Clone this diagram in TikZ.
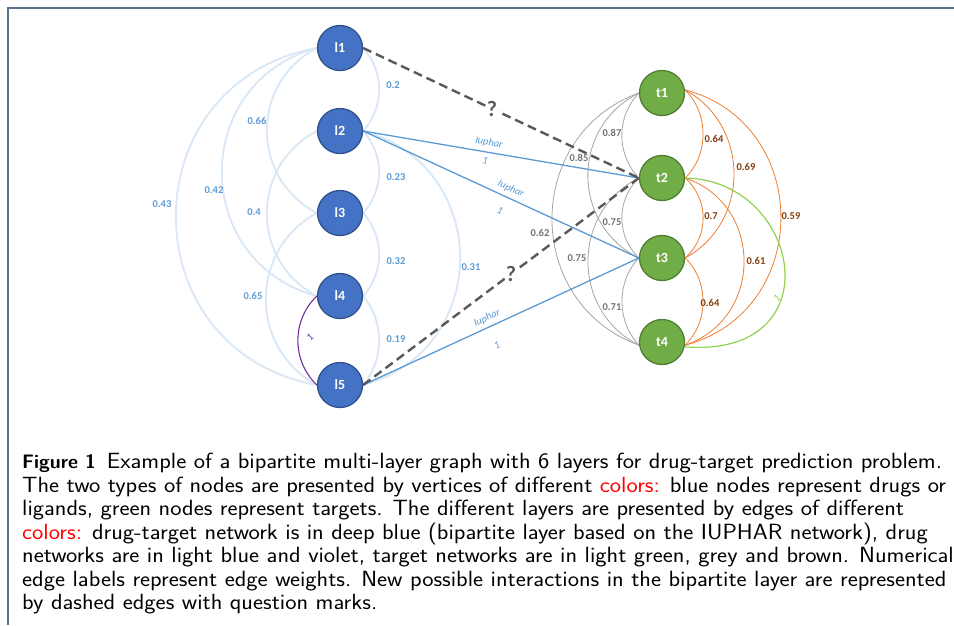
\documentclass[tikz,border=0pt]{standalone}
\usepackage{fontspec}
\newfontfamily\calib{Carlito}
\newfontfamily\capfont{lmsans17-regular.otf}[FakeStretch=1.09]
\usetikzlibrary{backgrounds}

\definecolor{drugfill}{HTML}{4472C4}
\definecolor{drugline}{HTML}{2F528F}
\definecolor{targfill}{HTML}{70AD47}
\definecolor{targline}{HTML}{507E32}
\definecolor{lightarc}{HTML}{DAE7F5}
\definecolor{lightlab}{HTML}{5B9BD5}
\definecolor{bipcol}{HTML}{5B9BD5}
\definecolor{violetcol}{HTML}{7030A0}
\definecolor{greycol}{HTML}{A5A5A5}
\definecolor{greylab}{HTML}{767171}
\definecolor{browncol}{HTML}{ED7D31}
\definecolor{brownlab}{HTML}{843C0C}
\definecolor{greencol}{HTML}{92D050}
\definecolor{guesscol}{HTML}{595959}
\definecolor{framecol}{HTML}{5B7391}

\begin{document}
\begin{tikzpicture}[x=1pt,y=-1pt,
  drug/.style={circle, minimum size=45pt, inner sep=0pt, fill=drugfill, draw=drugline,
    line width=1.3pt, text=white, font=\calib\bfseries\fontsize{14}{16}\selectfont},
  targ/.style={drug, fill=targfill, draw=targline},
  drugarc/.style={draw=lightarc, line width=1.9pt},
  violetarc/.style={draw=violetcol, line width=1.1pt},
  greyarc/.style={draw=greycol, line width=0.8pt},
  brownarc/.style={draw=browncol, line width=0.8pt},
  greenarc/.style={draw=greencol, line width=1.2pt},
  bip/.style={draw=bipcol, line width=1.3pt},
  guess/.style={draw=guesscol, line width=2.4pt, dash pattern=on 9pt off 5pt},
  wlab/.style={font=\calib\bfseries\fontsize{10.5}{12}\selectfont, inner sep=1pt},
  lbl/.style={wlab, text=lightlab},
  glbl/.style={wlab, text=greylab},
  blbl/.style={wlab, text=brownlab},
  iup/.style={font=\calib\itshape\fontsize{10.5}{12}\selectfont, text=bipcol, inner sep=0.5pt},
  qmark/.style={font=\calib\bfseries\fontsize{22}{24}\selectfont, text=guesscol,
    fill=white, inner sep=1pt}
]
\useasboundingbox (0,0) rectangle (954,625);

% frame lines
\draw[framecol, line width=2pt] (8,625) -- (8,8) -- (954,8);

% drug (ligand) vertices
\node[drug] (l1) at (340,48)  {l1};
\node[drug] (l2) at (340,131) {l2};
\node[drug] (l3) at (340,213) {l3};
\node[drug] (l4) at (340,296) {l4};
\node[drug] (l5) at (340,385) {l5};

% target vertices
\node[targ] (t1) at (662,93)  {t1};
\node[targ] (t2) at (662,178) {t2};
\node[targ] (t3) at (662,258) {t3};
\node[targ] (t4) at (662,342) {t4};

\begin{scope}[on background layer]
  % drug network (light blue), west side
  \draw[drugarc] (l1.west) .. controls +(-66.7,34.9) and +(-66.7,-34.9) .. (l3.west);
  \draw[drugarc] (l1.west) .. controls +(-126.7,34) and +(-126.7,-34) .. (l4.west);
  \draw[drugarc] (l1.west) .. controls +(-188,34.5) and +(-188,-34.5) .. (l5.west);
  \draw[drugarc] (l2.west) .. controls +(-66.7,34.9) and +(-66.7,-34.9) .. (l4.west);
  \draw[drugarc] (l3.west) .. controls +(-68,37) and +(-68,-37) .. (l5.west);
  % drug network (light blue), east side
  \draw[drugarc] (l1.east) .. controls +(21.3,23.5) and +(21.3,-23.5) .. (l2.east);
  \draw[drugarc] (l2.east) .. controls +(21.3,23.5) and +(21.3,-23.5) .. (l3.east);
  \draw[drugarc] (l3.east) .. controls +(21.3,23.5) and +(21.3,-23.5) .. (l4.east);
  \draw[drugarc] (l4.east) .. controls +(21.3,25.8) and +(21.3,-25.8) .. (l5.east);
  \draw[drugarc] (l2.east) .. controls +(129.3,35.1) and +(129.3,-35.1) .. (l5.east);
  % drug network (violet)
  \draw[violetarc] (l4.west) .. controls +(-25.3,24.3) and +(-25.3,-24.3) .. (l5.west);

  % target network (grey), west side
  \draw[greyarc] (t1.west) .. controls +(-22.7,23.8) and +(-22.7,-23.8) .. (t2.west);
  \draw[greyarc] (t1.west) .. controls +(-68,34) and +(-68,-34) .. (t3.west);
  \draw[greyarc] (t1.west) .. controls +(-116,42.2) and +(-116,-42.2) .. (t4.188);
  \draw[greyarc] (t2.west) .. controls +(-22.7,21.9) and +(-22.7,-21.9) .. (t3.west);
  \draw[greyarc] (t2.west) .. controls +(-68,34) and +(-68,-34) .. (t4.188);
  \draw[greyarc] (t3.west) .. controls +(-22.7,23.8) and +(-22.7,-23.8) .. (t4.188);
  % target network (brown), east side
  \draw[brownarc] (t1.8) .. controls +(24,23.3) and +(24,-23.3) .. (t2.east);
  \draw[brownarc] (t1.8) .. controls +(65.3,35.6) and +(65.3,-35.6) .. (t3.east);
  \draw[brownarc] (t1.8) .. controls +(128,33.7) and +(128,-33.7) .. (t4.-8);
  \draw[brownarc] (t2.east) .. controls +(24,21.3) and +(24,-21.3) .. (t3.east);
  \draw[brownarc] (t2.east) .. controls +(78.7,26.5) and +(78.7,-26.5) .. (t4.-8);
  \draw[brownarc] (t3.east) .. controls +(24,23) and +(24,-23) .. (t4.-8);
  % target network (light green)
  \draw[greenarc] (t2.east) .. controls +(116,2) and +(150,12) .. (t4.-12);

  % bipartite layer (IUPHAR)
  \draw[bip] (l2.east) -- (t2.west);
  \draw[bip] (l2.east) -- (t3.west);
  \draw[bip] (l5.east) -- (t3.west);
  % possible new interactions
  \draw[guess] (l1.east) -- node[qmark, pos=.467] (q1) {?} (t2.west);
  \draw[guess] (l5.east) -- node[qmark, pos=.536] (q2) {?} (t2.west);
\end{scope}

% drug network weights
\node[lbl] (w12) at (393,85)  {0.2};
\node[lbl] (w13) at (257,121) {0.66};
\node[lbl] (w14) at (214,190) {0.42};
\node[lbl] (w15) at (162,204) {0.43};
\node[lbl] (w23) at (396,177) {0.23};
\node[lbl] (w24) at (254,212) {0.4};
\node[lbl] (w25) at (471,267) {0.31};
\node[lbl] (w34) at (396,261) {0.32};
\node[lbl] (w35) at (253,296) {0.65};
\node[lbl] (w45) at (396,339) {0.19};
\node[font=\calib\fontsize{10.5}{12}\selectfont, text=violetcol, rotate=40, inner sep=0.5pt] (v45) at (310,337) {1};

% target network weights
\node[glbl] (g12) at (612,133) {0.87};
\node[glbl] (g13) at (579,158) {0.85};
\node[glbl] (g23) at (612,222) {0.75};
\node[glbl] (g14) at (540,233) {0.62};
\node[glbl] (g24) at (577,258) {0.75};
\node[glbl] (g34) at (612,307) {0.71};
\node[blbl] (b12) at (714,139) {0.64};
\node[blbl] (b13) at (746,167) {0.69};
\node[blbl] (b23) at (711,216) {0.7};
\node[blbl] (b14) at (791,216) {0.59};
\node[blbl] (b24) at (756,261) {0.61};
\node[blbl] (b34) at (710,303) {0.64};
\node[font=\calib\fontsize{10.5}{12}\selectfont, text=greencol, rotate=40, inner sep=0.5pt] (n24) at (777,298) {1};

% bipartite labels
\node[iup, rotate=-9.7]  (i22) at (489,143) {Iuphar};
\node[iup, rotate=-9.7]  (o22) at (485,161) {1};
\node[iup, rotate=-24.7] (i23) at (511,189) {Iuphar};
\node[iup, rotate=-24.7] (o23) at (500,211) {1};
\node[iup, rotate=24.7]  (i53) at (487,318) {Iuphar};
\node[iup, rotate=24.7]  (o53) at (497,345) {1};

% caption
\node[anchor=north west, align=left, inner sep=0pt,
      font=\capfont\fontsize{22}{23.5}\selectfont] (cap) at (22,453)
{{\sffamily\bfseries\fontsize{19.5}{23.5}\selectfont Figure 1}\hspace{11pt}Example of a bipartite multi-layer graph with 6 layers for drug-target prediction problem.\\
The two types of nodes are presented by vertices of different \textcolor{red}{colors:} blue nodes represent drugs or\\
ligands, green nodes represent targets. The different layers are presented by edges of different\\
\textcolor{red}{colors:} drug-target network is in deep blue (bipartite layer based on the IUPHAR network), drug\\
networks are in light blue and violet, target networks are in light green, grey and brown. Numerical\\
edge labels represent edge weights. New possible interactions in the bipartite layer are represented\\
by dashed edges with question marks.};
\end{tikzpicture}
\end{document}
